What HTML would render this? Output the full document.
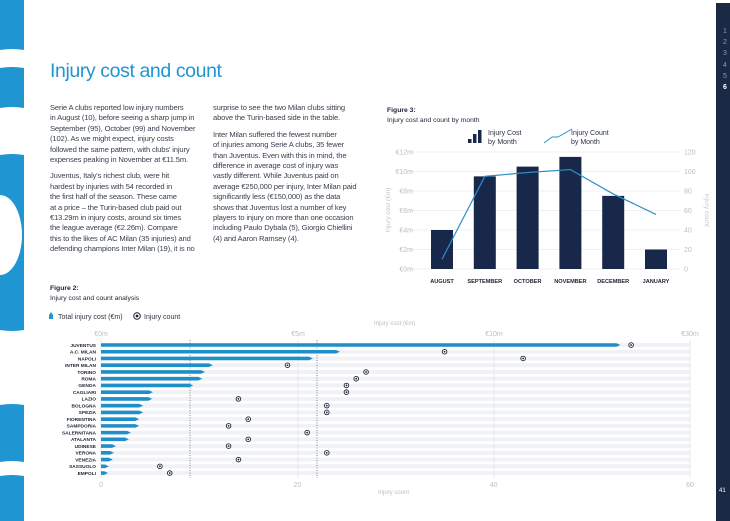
<!DOCTYPE html>
<html><head><meta charset="utf-8">
<style>
*{margin:0;padding:0;box-sizing:border-box}
body{width:730px;height:521px;background:#fff;position:relative;overflow:hidden;font-family:"Liberation Sans",sans-serif;color:#2b3340}
.t{position:absolute;white-space:nowrap}
.p{position:absolute;font-size:7.6px;line-height:10.4px;color:#3a4250;letter-spacing:-0.15px}
</style></head><body>
<svg width="730" height="521" style="position:absolute;left:0;top:0">
  <path d="M0,0 H24 V50 Q12,48 0,50 Z" fill="#1f96d1"/>
  <path d="M0,68 Q12,66 24,68 V108 Q12,106 0,108 Z" fill="#1f96d1"/>
  <path d="M0,155 Q12,153 24,155 V330 Q12,332 0,330 Z M0,195 A22,40 0 0 1 0,275 Z" fill="#1f96d1" fill-rule="evenodd"/>
  <path d="M0,405 Q12,403 24,405 V462 Q12,460 0,462 Z" fill="#1f96d1"/>
  <path d="M0,476 Q12,474 24,476 V521 H0 Z" fill="#1f96d1"/>
  <rect x="716" y="3" width="14" height="518" fill="#1a2a45"/>
</svg>
<div class="t" style="left:721px;top:26px;font-size:7px;color:#8c9ab0;line-height:11.2px;text-align:center;width:8px">1<br>2<br>3<br>4<br>5<br><b style="color:#fff">6</b></div>
<div class="t" style="left:719px;top:488px;font-size:6px;color:#fff">41</div>

<div class="t" style="left:50px;top:60px;font-size:19.5px;color:#1f96d1;letter-spacing:-0.4px">Injury cost and count</div>

<div class="p" style="left:50px;top:103px">Serie A clubs reported low injury numbers<br>in August (10), before seeing a sharp jump in<br>September (95), October (99) and November<br>(102). As we might expect, injury costs<br>followed the same pattern, with clubs' injury<br>expenses peaking in November at €11.5m.<div style="height:6px"></div>Juventus, Italy's richest club, were hit<br>hardest by injuries with 54 recorded in<br>the first half of the season. These came<br>at a price – the Turin-based club paid out<br>€13.29m in injury costs, around six times<br>the league average (€2.26m). Compare<br>this to the likes of AC Milan (35 injuries) and<br>defending champions Inter Milan (19), it is no</div>
<div class="p" style="left:213px;top:103px">surprise to see the two Milan clubs sitting<br>above the Turin-based side in the table.<div style="height:6px"></div>Inter Milan suffered the fewest number<br>of injuries among Serie A clubs, 35 fewer<br>than Juventus. Even with this in mind, the<br>difference in average cost of injury was<br>vastly different. While Juventus paid on<br>average €250,000 per injury, Inter Milan paid<br>significantly less (€150,000) as the data<br>shows that Juventus lost a number of key<br>players to injury on more than one occasion<br>including Paulo Dybala (5), Giorgio Chiellini<br>(4) and Aaron Ramsey (4).</div>

<div class="t" style="left:50px;top:284px;font-size:6.8px;line-height:9.5px;color:#1a2233"><b>Figure 2:</b><br>Injury cost and count analysis</div>
<div class="t" style="left:387px;top:106px;font-size:6.8px;line-height:9.5px;color:#1a2233"><b>Figure 3:</b><br>Injury cost and count by month</div>

<svg id="monthly" width="730" height="521" style="position:absolute;left:0;top:0"></svg>
<svg id="clubs" width="730" height="521" style="position:absolute;left:0;top:0"></svg>

<script>
const NS="http://www.w3.org/2000/svg";
function mk(svg,tag,a,txt){const e=document.createElementNS(NS,tag);for(const k in a)e.setAttribute(k,a[k]);if(txt!==undefined)e.textContent=txt;svg.appendChild(e);return e;}

// ---- Figure 3 data ----
const months=["AUGUST","SEPTEMBER","OCTOBER","NOVEMBER","DECEMBER","JANUARY"];
const monthCost=[4,9.5,10.5,11.5,7.5,2];
const monthCount=[10,95,99,102,77,56];
const costTicks=["€0m","€2m","€4m","€6m","€8m","€10m","€12m"];
const countTicks=["0","20","40","60","80","100","120"];

// ---- Figure 2 data ----
const clubs=["JUVENTUS","A.C. MILAN","NAPOLI","INTER MILAN","TORINO","ROMA","GENOA","CAGLIARI","LAZIO","BOLOGNA","SPEZIA","FIORENTINA","SAMPDORIA","SALERNITANA","ATALANTA","UDINESE","VERONA","VENEZIA","SASSUOLO","EMPOLI"];
const clubCost=[22.9,6.07,5.38,2.84,2.64,2.57,2.34,1.32,1.3,1.07,1.07,0.97,0.97,0.76,0.71,0.38,0.33,0.3,0.2,0.18];
const clubCount=[54,35,43,19,27,26,25,25,14,23,23,15,13,21,15,13,23,14,6,7];
const clubCostTicks=[0,5,10,30];
const clubCostTickLabels=["€0m","€5m","€10m","€30m"];
const clubCountTicks=[0,20,40,60];

(function(){
  const s=document.getElementById('monthly');
  const y0=269,pxPer=9.75,x0=442,step=42.8,bw=22;
  const yC=v=>y0-v*pxPer, yN=v=>y0-v/10*pxPer, xM=i=>x0+i*step;
  costTicks.forEach((t,i)=>{
    const y=yC(i*2);
    let g=mk(s,'line',{x1:410,x2:680,y1:y,y2:y,stroke:'#eef0f3','stroke-width':1});
    
    let a=mk(s,'text',{x:413,y:y+2.5,'font-size':7,fill:'#b9bec6','text-anchor':'end'},t);
    
    let b=mk(s,'text',{x:684,y:y+2.5,'font-size':7,fill:'#b9bec6'},countTicks[i]);
    
  });
  let yl=mk(s,'text',{x:0,y:0,'font-size':6.5,fill:'#c3c7ce','text-anchor':'middle',transform:'translate(390,210) rotate(-90)'},'Injury cost (€m)');
  
  let yr=mk(s,'text',{x:0,y:0,'font-size':6.5,fill:'#c3c7ce','text-anchor':'middle',transform:'translate(705,210) rotate(90)'},'Injury count');
  
  months.forEach((m,i)=>{
    let r=mk(s,'rect',{x:xM(i)-bw/2,y:yC(monthCost[i]),width:bw,height:monthCost[i]*pxPer,fill:'#17284a'});
    
    let l=mk(s,'text',{x:xM(i),y:283,'font-size':5.6,'font-weight':'bold',fill:'#1a2233','text-anchor':'middle'},m);
    
  });
  let pts=monthCount.map((v,i)=>xM(i)+','+yN(v)).join(' ');
  let pl=mk(s,'polyline',{points:pts,fill:'none',stroke:'#2e8fc4','stroke-width':1.2});
  
  let lg=mk(s,'g',{});
  mk(lg,'rect',{x:468,y:139,width:3.5,height:4,fill:'#17284a'});
  mk(lg,'rect',{x:473,y:134,width:3.5,height:9,fill:'#17284a'});
  mk(lg,'rect',{x:478,y:130,width:3.5,height:13,fill:'#17284a'});
  mk(lg,'text',{x:488,y:135,'font-size':7,fill:'#2b3340'},'Injury Cost');
  mk(lg,'text',{x:488,y:144,'font-size':7,fill:'#2b3340'},'by Month');
  mk(lg,'polyline',{points:'544,143 552,137 558,137 572,129',fill:'none',stroke:'#2e8fc4','stroke-width':1});
  mk(lg,'text',{x:571,y:135,'font-size':7,fill:'#2b3340'},'Injury Count');
  mk(lg,'text',{x:571,y:144,'font-size':7,fill:'#2b3340'},'by Month');
})();

(function(){
  const s=document.getElementById('clubs');
  const xL=101,xR=690,rowY0=345,rowStep=6.74;
  const xN=v=>xL+v*(xR-xL)/60;
  const xCost=v=>{ if(v<=5) return xL+v/5*197; if(v<=10) return 298+(v-5)/5*196; return 494+(v-10)/20*196; };
  const yR=i=>rowY0+i*rowStep;
  let lg=mk(s,'g',{});
  mk(lg,'path',{d:'M49,319 L49,315 L51,312 L53,315 L53,319 Z',fill:'#1f96d1'});
  mk(lg,'text',{x:58,y:319,'font-size':7,fill:'#2b3340'},'Total injury cost (€m)');
  mk(lg,'circle',{cx:137,cy:316,r:3.3,fill:'none',stroke:'#1a2233','stroke-width':1});
  mk(lg,'circle',{cx:137,cy:316,r:1.4,fill:'#1a2233'});
  mk(lg,'text',{x:144,y:319,'font-size':7,fill:'#2b3340'},'Injury count');
  let t1=mk(s,'text',{x:374,y:325,'font-size':6,fill:'#b9bec6'},'Injury cost (€m)');
  
  let t2=mk(s,'text',{x:378,y:494,'font-size':6,fill:'#b9bec6'},'Injury count');
  
  clubs.forEach((c,i)=>{
    let st=mk(s,'rect',{x:xL,y:yR(i)-2,width:xR-xL,height:4,fill:'#f0f2f5'});
    
  });
  clubCostTicks.forEach((v,i)=>{
    const x=xCost(v);
    let g=mk(s,'line',{x1:x,x2:x,y1:340,y2:478,stroke:'#e2e5ea','stroke-width':0.8});
    
    let a=mk(s,'text',{x:x,y:336,'font-size':7,fill:'#b9bec6','text-anchor':'middle'},clubCostTickLabels[i]);
    
  });
  clubCountTicks.forEach(v=>{
    let a=mk(s,'text',{x:xN(v),y:487,'font-size':7,fill:'#b9bec6','text-anchor':'middle'},String(v));
    
  });
  [190,317].forEach(x=>{
    let d=mk(s,'line',{x1:x,x2:x,y1:340,y2:478,stroke:'#5a6a80','stroke-width':0.8,'stroke-dasharray':'1,1.5'});
    
  });
  clubs.forEach((c,i)=>{
    const y=yR(i), xe=xCost(clubCost[i]);
    let b=mk(s,'path',{d:`M${xL},${y-1.8} L${xe-4},${y-1.8} L${xe},${y} L${xe-4},${y+1.8} L${xL},${y+1.8} Z`,fill:'#1f8fc9'});
    
    let l=mk(s,'text',{x:96,y:y+1.8,'font-size':4.8,'font-weight':'bold',fill:'#1a2233','text-anchor':'end'},c);
    
    const cx=xN(clubCount[i]);
    let o=mk(s,'circle',{cx:cx,cy:y,r:2.3,fill:'#fff',stroke:'#1a2233','stroke-width':0.9});
    
    let o2=mk(s,'circle',{cx:cx,cy:y,r:0.9,fill:'#1a2233'});
    
  });
})();
</script>
</body></html>
